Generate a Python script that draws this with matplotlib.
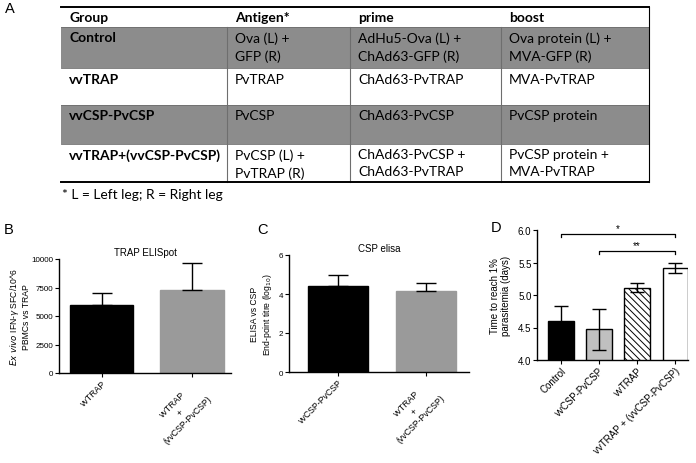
import matplotlib.pyplot as plt
import numpy as np
from matplotlib.patches import Rectangle

plt.rcParams['font.family'] = ['Liberation Sans', 'DejaVu Sans']
plt.rcParams['hatch.linewidth'] = 0.7
TABLE_FONT = ['Lato', 'DejaVu Sans']

# ---- table data (panel A)
header = ["Group", "Antigen*", "prime", "boost"]
groups = ["Control", "vvTRAP", "vvCSP-PvCSP", "vvTRAP+(vvCSP-PvCSP)"]
antigen = ["Ova (L) +\nGFP (R)", "PvTRAP", "PvCSP", "PvCSP (L) +\nPvTRAP (R)"]
prime = ["AdHu5-Ova (L) +\nChAd63-GFP (R)", "ChAd63-PvTRAP", "ChAd63-PvCSP",
         "ChAd63-PvCSP +\nChAd63-PvTRAP"]
boost = ["Ova protein (L) +\nMVA-GFP (R)", "MVA-PvTRAP", "PvCSP protein",
         "PvCSP protein +\nMVA-PvTRAP"]
footnote = "* L = Left leg; R = Right leg"

# ---- panel B
b_labels = ["vvTRAP", "vvTRAP\n+\n(vvCSP-PvCSP)"]
b_mean = [5950, 7300]
b_err = [1050, 2350]

# ---- panel C
c_labels = ["vvCSP-PvCSP", "vvTRAP\n+\n(vvCSP-PvCSP)"]
c_mean = [4.43, 4.14]
c_err = [0.55, 0.40]

# ---- panel D
d_labels = ["Control", "vvCSP-PvCSP", "vvTRAP", "vvTRAP + (vvCSP-PvCSP)"]
d_mean = [4.60, 4.47, 5.11, 5.42]
d_err = [0.23, 0.32, 0.07, 0.08]

W, H = 696, 464
fig = plt.figure(figsize=(W / 100, H / 100), dpi=100)

# background axes in pixel coordinates for the table and panel letters
bg = fig.add_axes([0, 0, 1, 1])
bg.set_xlim(0, W)
bg.set_ylim(H, 0)
bg.axis('off')

col_x = [61, 227, 350, 501, 649]
row_y = [8, 28, 69, 106, 145, 183]
gray = "#8c8c8c"
for i in range(4):
    if i % 2 == 0:
        bg.add_patch(Rectangle((col_x[0], row_y[i + 1]), col_x[-1] - col_x[0],
                               row_y[i + 2] - row_y[i + 1], color=gray, lw=0))
# grid lines
for y in row_y[1:-1]:
    bg.plot([col_x[0], col_x[-1]], [y, y], color="#6e6e6e", lw=0.6)
for x in col_x[1:-1]:
    bg.plot([x, x], [row_y[1], row_y[-1]], color="#6e6e6e", lw=0.8)
bg.plot([col_x[0], col_x[-1]], [row_y[0], row_y[0]], color="black", lw=1.4)
bg.plot([col_x[0], col_x[-1]], [row_y[-1], row_y[-1]], color="black", lw=1.4)
bg.plot([col_x[-1], col_x[-1]], [row_y[0], row_y[-1]], color="black", lw=0.8)

tx = [c + 8 for c in col_x[:4]]
for j, h in enumerate(header):
    bg.text(tx[j], 18.5, h, family=TABLE_FONT, fontsize=10, fontweight='bold',
            va='center')
cols = [groups, antigen, prime, boost]
for i in range(4):
    for j in range(4):
        bg.text(tx[j], row_y[i + 1] + 4.5, cols[j][i], family=TABLE_FONT,
                fontsize=10, fontweight='bold' if j == 0 else 'normal',
                va='top', linespacing=1.5)
bg.text(62, 195, footnote, family=TABLE_FONT, fontsize=10, va='center')

for lab, (x, y) in zip("ABCD", [(10, 9), (9, 230), (263, 230), (496, 228)]):
    bg.text(x, y, lab, fontsize=10.5, ha='center', va='center')


def px_axes(left, right, top, bottom):
    return fig.add_axes([left / W, 1 - bottom / H, (right - left) / W,
                         (bottom - top) / H])


def style(ax, fs, xfs):
    for s in ['top', 'right']:
        ax.spines[s].set_visible(False)
    for s in ['left', 'bottom']:
        ax.spines[s].set_linewidth(1.0)
    ax.tick_params(axis='y', labelsize=fs, width=0.8, length=3, pad=1)
    ax.tick_params(axis='x', labelsize=xfs, width=0.8, length=3, pad=1)


# ---- B
axB = px_axes(59, 231, 260, 374)
x = np.arange(2)
axB.bar(x, b_mean, width=0.7, color=["black", "#9a9a9a"], edgecolor=["black", "#9a9a9a"])
axB.errorbar(x, b_mean, yerr=[np.zeros(2), b_err], fmt='none', ecolor='black',
             elinewidth=1.0, capsize=7, capthick=1.0)
axB.set_xlim(-0.47, 1.43)
axB.set_ylim(0, 10000)
axB.set_yticks([0, 2500, 5000, 7500, 10000])
axB.set_xticks(x)
axB.set_xticklabels(b_labels, rotation=45, ha='right', rotation_mode='anchor',
                    multialignment='center')
style(axB, 5.8, 6.3)
axB.set_title("TRAP ELISpot", fontsize=7, pad=3)
axB.set_ylabel("$\\it{Ex\\ vivo}$ IFN-$\\gamma$ SFC/10^6\nPBMCs vs TRAP", fontsize=6.2)
axB.yaxis.set_label_coords(-0.16, 0.5)

# ---- C
axC = px_axes(289, 469, 256, 373)
axC.bar(x, c_mean, width=0.68, color=["black", "#9a9a9a"], edgecolor=["black", "#9a9a9a"])
axC.errorbar(x, c_mean, yerr=[np.zeros(2), c_err], fmt='none', ecolor='black',
             elinewidth=1.0, capsize=7, capthick=1.0)
axC.set_xlim(-0.56, 1.49)
axC.set_ylim(0, 6)
axC.set_yticks([0, 2, 4, 6])
axC.set_xticks(x)
axC.set_xticklabels(c_labels, rotation=45, ha='right', rotation_mode='anchor',
                    multialignment='center')
style(axC, 5.8, 6.3)
axC.set_title("CSP elisa", fontsize=7, pad=3)
axC.set_ylabel("ELISA vs CSP\nEnd-point titre (log$_{10}$)", fontsize=6.2)
axC.yaxis.set_label_coords(-0.085, 0.5)

# ---- D
axD = px_axes(537, 688, 231, 361)
xd = np.arange(4)
faces = ["black", "#c0c0c0", "white", "white"]
bars = axD.bar(xd, d_mean, bottom=0, width=0.66, color=faces, edgecolor='black',
               linewidth=1.0)
bars[2].set_hatch('\\\\\\\\\\')
axD.errorbar(xd, d_mean, yerr=d_err, fmt='none', ecolor='black', elinewidth=1.0,
             capsize=5, capthick=1.0)
axD.set_xlim(-0.63, 3.34)
axD.set_ylim(4.0, 6.0)
axD.set_yticks([4.0, 4.5, 5.0, 5.5, 6.0])
axD.set_yticklabels(["4.0", "4.5", "5.0", "5.5", "6.0"])
axD.set_xticks(xd)
axD.set_xticklabels(d_labels, rotation=45, ha='right', rotation_mode='anchor')
style(axD, 7, 7)
axD.set_ylabel("Time to reach 1%\nparasitemia (days)", fontsize=7)
axD.yaxis.set_label_coords(-0.17, 0.5)

# significance brackets
sig = [(0, 3, 5.94, "*"), (1, 3, 5.68, "**")]
for a, b, y, s in sig:
    axD.plot([a, a, b, b], [y - 0.05, y, y, y - 0.05], color='black', lw=0.9,
             clip_on=False)
    axD.text((a + b) / 2, y + 0.01, s, ha='center', va='bottom', fontsize=7)

fig.savefig("out.png", dpi=100)
